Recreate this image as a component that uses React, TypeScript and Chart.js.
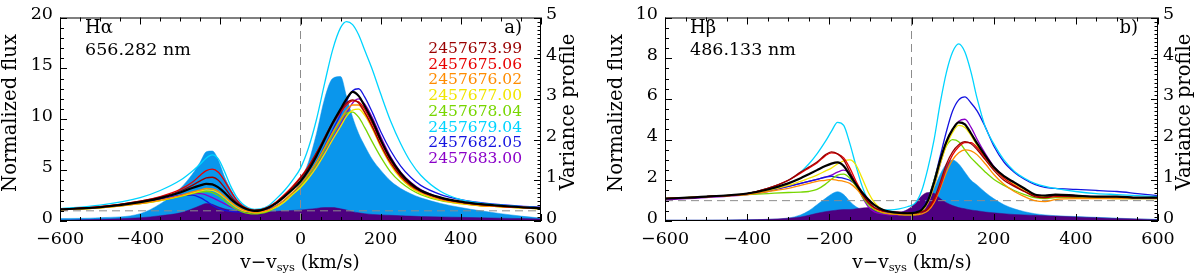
import React, { useEffect, useRef } from "react";
import { Chart, registerables } from "chart.js";

Chart.register(...registerables);

// ---------- data ----------
const DATES = ["2457673.99", "2457675.06", "2457676.02", "2457677.00", "2457678.04", "2457679.04", "2457682.05", "2457683.00"];
const LINE_COLORS = ["#990000", "#e80000", "#ff8c00", "#f2e600", "#77d600", "#00d4ff", "#1414e0", "#8a00c8"];
const FILL_LIGHT = "#0a96ec";
const FILL_DARK = "#4e0080";

const X_TICKS = [-600, -400, -200, 0, 200, 400, 600];
const HA_FLUX_TICKS = [0, 5, 10, 15, 20];
const HB_FLUX_TICKS = [0, 2, 4, 6, 8, 10];
const VAR_TICKS = [0, 1, 2, 3, 4, 5];

// H-alpha
const HA_VEL = [-600, -500, -400, -350, -300, -270, -250, -235, -220, -205, -190, -175, -160, -145, -130, -115, -100, -80, -60, -40, -20, 0, 20, 40, 60, 80, 100, 115, 130, 145, 160, 180, 200, 225, 250, 275, 300, 350, 400, 450, 500, 550, 600];
const HA_MEAN = [1.15, 1.35, 1.85, 2.25, 2.8, 3.25, 3.5, 3.65, 3.6, 3.3, 2.8, 2.2, 1.7, 1.35, 1.1, 1.0, 1.05, 1.3, 1.75, 2.4, 3.1, 3.9, 5.0, 6.4, 8.0, 9.6, 11.0, 12.0, 12.7, 12.3, 11.3, 9.8, 8.0, 6.1, 4.7, 3.7, 3.0, 2.3, 1.9, 1.65, 1.5, 1.35, 1.25];
const HA_DARKRED = [1.15, 1.4, 1.95, 2.35, 2.95, 3.5, 3.95, 4.25, 4.3, 4.0, 3.3, 2.5, 1.85, 1.4, 1.15, 1.05, 1.1, 1.35, 1.85, 2.5, 3.3, 4.2, 5.3, 6.7, 8.2, 9.7, 10.9, 11.6, 11.9, 11.6, 10.7, 9.2, 7.5, 5.7, 4.4, 3.5, 2.9, 2.2, 1.85, 1.6, 1.45, 1.35, 1.25];
const HA_RED = [1.15, 1.4, 1.95, 2.4, 3.1, 3.8, 4.5, 4.95, 5.1, 4.8, 4.0, 3.0, 2.1, 1.5, 1.2, 1.05, 1.1, 1.4, 1.9, 2.6, 3.4, 4.3, 5.4, 6.7, 8.1, 9.5, 10.7, 11.4, 11.8, 11.7, 11.0, 9.5, 7.8, 5.9, 4.5, 3.6, 2.95, 2.25, 1.85, 1.6, 1.45, 1.35, 1.25];
const HA_ORANGE = [1.1, 1.3, 1.7, 2.05, 2.5, 2.85, 3.05, 3.2, 3.15, 2.9, 2.4, 1.9, 1.45, 1.15, 0.95, 0.85, 0.9, 1.1, 1.5, 2.1, 2.8, 3.6, 4.6, 5.8, 7.2, 8.7, 10.0, 10.9, 11.4, 11.4, 10.6, 9.1, 7.4, 5.6, 4.3, 3.4, 2.8, 2.1, 1.75, 1.5, 1.4, 1.3, 1.2];
const HA_YELLOW = [1.1, 1.3, 1.7, 2.0, 2.45, 2.75, 2.95, 3.05, 3.0, 2.75, 2.3, 1.8, 1.35, 1.05, 0.9, 0.8, 0.85, 1.05, 1.4, 1.9, 2.6, 3.3, 4.2, 5.3, 6.6, 8.0, 9.3, 10.3, 10.9, 11.0, 10.4, 9.0, 7.3, 5.5, 4.2, 3.3, 2.7, 2.05, 1.7, 1.5, 1.4, 1.3, 1.2];
const HA_GREEN = [1.1, 1.3, 1.7, 2.0, 2.4, 2.7, 2.85, 2.9, 2.8, 2.5, 2.05, 1.55, 1.15, 0.9, 0.75, 0.7, 0.75, 0.95, 1.35, 1.9, 2.6, 3.4, 4.4, 5.6, 7.0, 8.5, 9.9, 10.6, 10.7, 10.2, 9.2, 7.7, 6.3, 4.8, 3.8, 3.1, 2.6, 2.0, 1.7, 1.5, 1.4, 1.3, 1.2];
const HA_CYAN = [1.2, 1.55, 2.3, 3.0, 4.0, 4.9, 5.6, 6.2, 6.5, 6.1, 4.9, 3.5, 2.4, 1.7, 1.3, 1.15, 1.2, 1.5, 2.2, 3.0, 4.0, 5.2, 7.2, 10.0, 13.5, 16.8, 19.0, 19.6, 19.3, 18.3, 16.8, 14.8, 12.5, 9.8, 7.6, 5.8, 4.5, 2.9, 2.1, 1.75, 1.55, 1.4, 1.3];
const HA_BLUE = [1.1, 1.35, 1.8, 2.15, 2.5, 2.55, 2.3, 1.95, 1.55, 1.25, 1.05, 0.95, 0.9, 0.88, 0.88, 0.9, 0.95, 1.15, 1.5, 2.0, 2.7, 3.5, 4.5, 5.8, 7.3, 8.9, 10.5, 11.8, 12.8, 13.0, 12.2, 10.6, 8.8, 6.9, 5.4, 4.3, 3.5, 2.6, 2.1, 1.8, 1.6, 1.45, 1.35];
const HA_PURPLE = [1.1, 1.35, 1.8, 2.15, 2.55, 2.7, 2.7, 2.55, 2.3, 2.0, 1.7, 1.4, 1.15, 1.0, 0.92, 0.9, 0.95, 1.15, 1.5, 2.0, 2.65, 3.4, 4.3, 5.4, 6.7, 8.1, 9.5, 10.6, 11.6, 12.0, 11.5, 10.1, 8.3, 6.3, 4.8, 3.8, 3.1, 2.3, 1.9, 1.65, 1.5, 1.4, 1.3];
const HA_VAR_LIGHT = [0.06, 0.08, 0.18, 0.42, 0.8, 1.15, 1.45, 1.7, 1.72, 1.5, 1.1, 0.8, 0.55, 0.4, 0.3, 0.26, 0.25, 0.27, 0.32, 0.45, 0.65, 1.0, 1.45, 2.15, 3.0, 3.5, 3.55, 3.05, 2.55, 2.15, 1.85, 1.5, 1.25, 0.98, 0.8, 0.67, 0.57, 0.43, 0.33, 0.25, 0.18, 0.12, 0.07];
const HA_VAR_DARK = [0.02, 0.04, 0.08, 0.13, 0.2, 0.3, 0.38, 0.43, 0.41, 0.35, 0.3, 0.27, 0.25, 0.24, 0.23, 0.23, 0.23, 0.23, 0.24, 0.25, 0.26, 0.27, 0.29, 0.31, 0.33, 0.33, 0.3, 0.27, 0.23, 0.2, 0.18, 0.16, 0.15, 0.14, 0.13, 0.12, 0.11, 0.1, 0.09, 0.08, 0.07, 0.06, 0.05];

// H-beta
const HB_VEL = [-600, -500, -400, -350, -300, -270, -250, -230, -210, -195, -180, -165, -150, -135, -120, -105, -90, -70, -50, -30, -10, 10, 25, 40, 55, 70, 85, 100, 115, 130, 145, 160, 180, 200, 225, 250, 275, 300, 325, 350, 400, 450, 500, 550, 600];
const HB_MEAN = [1.1, 1.2, 1.35, 1.55, 1.85, 2.1, 2.3, 2.5, 2.7, 2.82, 2.88, 2.7, 2.25, 1.8, 1.4, 1.05, 0.78, 0.55, 0.45, 0.4, 0.38, 0.42, 0.55, 1.0, 1.9, 3.0, 3.9, 4.5, 4.85, 4.75, 4.3, 3.8, 3.2, 2.65, 2.2, 1.9, 1.6, 1.3, 1.25, 1.3, 1.25, 1.2, 1.2, 1.15, 1.15];
const HB_DARKRED = [1.1, 1.2, 1.35, 1.6, 2.0, 2.4, 2.65, 2.9, 3.25, 3.4, 3.3, 3.0, 2.4, 1.8, 1.3, 0.9, 0.65, 0.5, 0.45, 0.42, 0.4, 0.4, 0.45, 0.6, 1.1, 1.9, 2.8, 3.4, 3.75, 3.9, 3.8, 3.5, 3.0, 2.5, 2.0, 1.7, 1.45, 1.2, 1.15, 1.25, 1.2, 1.2, 1.2, 1.15, 1.15];
const HB_RED = [1.1, 1.2, 1.35, 1.6, 2.0, 2.35, 2.6, 2.85, 3.2, 3.35, 3.3, 3.1, 2.6, 1.95, 1.4, 0.95, 0.65, 0.5, 0.45, 0.42, 0.4, 0.4, 0.45, 0.6, 1.0, 1.7, 2.6, 3.25, 3.65, 3.85, 3.85, 3.6, 3.1, 2.6, 2.1, 1.75, 1.45, 1.25, 1.15, 1.2, 1.2, 1.2, 1.2, 1.15, 1.15];
const HB_ORANGE = [1.1, 1.2, 1.3, 1.45, 1.6, 1.75, 1.85, 1.95, 2.0, 2.05, 2.0, 1.95, 1.85, 1.6, 1.25, 0.9, 0.6, 0.42, 0.35, 0.32, 0.3, 0.3, 0.35, 0.5, 0.9, 1.6, 2.4, 3.0, 3.35, 3.5, 3.45, 3.25, 2.8, 2.3, 1.8, 1.45, 1.2, 1.0, 0.95, 1.05, 1.1, 1.1, 1.1, 1.1, 1.1];
const HB_YELLOW = [1.1, 1.2, 1.35, 1.5, 1.75, 1.95, 2.1, 2.25, 2.45, 2.6, 2.8, 2.95, 3.0, 2.75, 2.1, 1.4, 0.9, 0.55, 0.45, 0.4, 0.38, 0.4, 0.5, 0.9, 1.7, 2.8, 3.7, 4.35, 4.7, 4.6, 4.2, 3.7, 3.1, 2.6, 2.1, 1.8, 1.5, 1.25, 1.2, 1.25, 1.2, 1.2, 1.15, 1.15, 1.15];
const HB_GREEN = [1.1, 1.2, 1.3, 1.35, 1.4, 1.42, 1.45, 1.55, 1.8, 2.05, 2.25, 2.3, 2.1, 1.7, 1.2, 0.8, 0.55, 0.4, 0.35, 0.32, 0.3, 0.32, 0.45, 1.0, 2.0, 3.0, 3.7, 4.0, 3.9, 3.5, 3.1, 2.8, 2.4, 2.05, 1.75, 1.5, 1.3, 1.15, 1.1, 1.15, 1.15, 1.15, 1.1, 1.1, 1.1];
const HB_CYAN = [1.1, 1.2, 1.35, 1.6, 2.0, 2.4, 2.8, 3.3, 3.9, 4.4, 4.85, 4.7, 3.8, 2.7, 1.7, 1.0, 0.65, 0.55, 0.55, 0.6, 0.7, 0.9, 1.5, 2.6, 4.0, 5.8, 7.3, 8.3, 8.7, 8.3, 7.3, 6.0, 4.6, 3.8, 3.0, 2.45, 2.1, 1.85, 1.7, 1.6, 1.45, 1.35, 1.3, 1.25, 1.2];
const HB_BLUE = [1.1, 1.2, 1.35, 1.5, 1.7, 1.85, 1.95, 2.05, 2.15, 2.2, 2.15, 2.1, 2.0, 1.75, 1.3, 0.85, 0.55, 0.42, 0.4, 0.4, 0.4, 0.45, 0.6, 1.1, 2.0, 3.2, 4.4, 5.4, 5.95, 6.1, 5.8, 5.4, 4.6, 3.7, 2.9, 2.4, 2.05, 1.8, 1.65, 1.6, 1.55, 1.5, 1.45, 1.35, 1.25];
const HB_PURPLE = [1.05, 1.15, 1.3, 1.45, 1.7, 1.85, 1.95, 2.05, 2.15, 2.25, 2.4, 2.5, 2.35, 1.85, 1.2, 0.7, 0.45, 0.35, 0.3, 0.3, 0.3, 0.35, 0.45, 0.85, 1.7, 2.8, 3.8, 4.5, 4.9, 5.0, 4.6, 4.0, 3.3, 2.7, 2.2, 1.85, 1.55, 1.3, 1.25, 1.3, 1.25, 1.2, 1.2, 1.15, 1.15];
const HB_VAR_LIGHT = [0.02, 0.02, 0.03, 0.04, 0.07, 0.15, 0.25, 0.4, 0.55, 0.66, 0.72, 0.65, 0.48, 0.35, 0.28, 0.24, 0.2, 0.16, 0.14, 0.14, 0.18, 0.25, 0.35, 0.5, 0.8, 1.15, 1.4, 1.5, 1.4, 1.2, 1.0, 0.88, 0.7, 0.55, 0.4, 0.3, 0.23, 0.18, 0.15, 0.13, 0.11, 0.09, 0.07, 0.05, 0.04];
const HB_VAR_DARK = [0.02, 0.02, 0.03, 0.04, 0.07, 0.1, 0.14, 0.19, 0.23, 0.25, 0.27, 0.28, 0.28, 0.3, 0.32, 0.33, 0.3, 0.26, 0.22, 0.22, 0.28, 0.45, 0.62, 0.7, 0.68, 0.55, 0.45, 0.38, 0.33, 0.3, 0.27, 0.25, 0.22, 0.2, 0.18, 0.16, 0.15, 0.14, 0.13, 0.12, 0.1, 0.08, 0.06, 0.05, 0.03];

// ---------- drawing ----------
const FONT = '"DejaVu Serif", serif';
const minus = (v: number) => String(v).replace("-", "\u2212");

const framePlugin = {
  id: "frame",
  afterDraw(chart: any) {
    const o = chart.options.plugins.frame;
    const { ctx, chartArea: a } = chart;
    const sx = chart.scales.x, sy = chart.scales.y, s2 = chart.scales.y2;
    ctx.save();
    ctx.strokeStyle = "#000";
    ctx.lineWidth = 1;
    const seg = (x1: number, y1: number, x2: number, y2: number) => {
      ctx.beginPath(); ctx.moveTo(x1, y1); ctx.lineTo(x2, y2); ctx.stroke();
    };
    ctx.strokeRect(a.left + 0.5, a.top + 0.5, a.right - a.left - 1, a.bottom - a.top - 1);
    const loop = (min: number, max: number, step: number, every: number, fn: (v: number, maj: boolean) => void) => {
      const n = Math.round((max - min) / step);
      for (let i = 0; i <= n; i++) fn(min + i * step, i % every === 0);
    };
    loop(-600, 600, 50, 4, (v, maj) => {
      const px = Math.round(sx.getPixelForValue(v)) + 0.5;
      const L = maj ? 7 : 4;
      seg(px, a.bottom, px, a.bottom - L);
      seg(px, a.top, px, a.top + L);
    });
    loop(0, o.yMax, o.yMinor, o.yEvery, (v, maj) => {
      const py = Math.round(sy.getPixelForValue(v)) + 0.5;
      seg(a.left, py, a.left + (maj ? 7 : 4), py);
    });
    loop(0, 5, 0.1, 10, (v, maj) => {
      const py = Math.round(s2.getPixelForValue(v)) + 0.5;
      seg(a.right, py, a.right - (maj ? 7 : 3.5), py);
    });

    ctx.fillStyle = "#000";
    ctx.textBaseline = "middle";
    for (const t of o.texts) {
      ctx.save();
      ctx.font = `${t.size}px ${FONT}`;
      ctx.fillStyle = t.color || "#000";
      ctx.textAlign = t.align || "left";
      ctx.translate(t.x, t.y);
      if (t.rot) ctx.rotate(t.rot);
      ctx.fillText(t.text, 0, 0);
      ctx.restore();
    }
    // legend of dates
    if (o.showLegend) {
      ctx.font = `15.5px ${FONT}`;
      ctx.textAlign = "right";
      DATES.forEach((d, i) => {
        ctx.fillStyle = LINE_COLORS[i];
        ctx.fillText(d, o.legX, o.legY + i * o.legDy);
      });
    }
    // x title with subscript
    ctx.fillStyle = "#000";
    ctx.textAlign = "left";
    const big = `18.5px ${FONT}`, small = `11.5px ${FONT}`;
    const p1 = "v\u2212v", p2 = "sys", p3 = " (km/s)";
    ctx.font = big; const w1 = ctx.measureText(p1).width; const w3 = ctx.measureText(p3).width;
    ctx.font = small; const w2 = ctx.measureText(p2).width;
    let x0 = o.xTitleX - (w1 + w2 + w3) / 2;
    const y0 = o.xTitleY;
    ctx.font = big; ctx.fillText(p1, x0, y0); x0 += w1;
    ctx.font = small; ctx.fillText(p2, x0, y0 + 5); x0 += w2;
    ctx.font = big; ctx.fillText(p3, x0, y0);
    ctx.restore();
  },
};

type PanelProps = {
  vel: number[];
  series: number[][];
  mean: number[];
  varLight: number[];
  varDark: number[];
  yMax: number;
  yTicks: number[];
  yMinor: number;
  yEvery: number;
  leftW: number;
  rightW: number;
  texts: any[];
  legX: number;
  legY: number;
  legDy: number;
  xTitleX: number;
  xTitleY: number;
  showLegend: boolean;
};

function Panel(p: PanelProps) {
  const ref = useRef<HTMLCanvasElement | null>(null);
  useEffect(() => {
    if (!ref.current) return;
    const pts = (arr: number[]) => p.vel.map((v, i) => ({ x: v, y: arr[i] }));
    const datasets: any[] = [];
    datasets.push({
      data: pts(p.mean), borderColor: "#000", borderWidth: 2.2, order: 0, yAxisID: "y",
      pointRadius: 0, cubicInterpolationMode: "monotone", fill: false,
    });
    p.series.forEach((arr, i) => {
      datasets.push({
        data: pts(arr), borderColor: LINE_COLORS[i], borderWidth: 1.3, order: 1 + i, yAxisID: "y",
        pointRadius: 0, cubicInterpolationMode: "monotone", fill: false,
      });
    });
    datasets.push({
      data: [{ x: -600, y: 1 }, { x: 600, y: 1 }], borderColor: "#8c8c8c", borderWidth: 1,
      borderDash: [8, 5], order: 20, yAxisID: "y", pointRadius: 0, fill: false,
    });
    datasets.push({
      data: [{ x: 0, y: 0 }, { x: 0, y: p.yMax }], borderColor: "#8c8c8c", borderWidth: 1,
      borderDash: [8, 5], order: 21, yAxisID: "y", pointRadius: 0, fill: false,
    });
    datasets.push({
      data: pts(p.varDark), borderColor: FILL_DARK, borderWidth: 0.5, backgroundColor: FILL_DARK,
      fill: "origin", order: 30, yAxisID: "y2", pointRadius: 0, cubicInterpolationMode: "monotone",
    });
    datasets.push({
      data: pts(p.varLight), borderColor: FILL_LIGHT, borderWidth: 0.5, backgroundColor: FILL_LIGHT,
      fill: "origin", order: 31, yAxisID: "y2", pointRadius: 0, cubicInterpolationMode: "monotone",
    });

    const tickFont = { family: FONT, size: 17.5 };
    const chart = new Chart(ref.current, {
      type: "line",
      data: { datasets },
      plugins: [framePlugin],
      options: {
        animation: false,
        responsive: false,
        devicePixelRatio: 1,
        layout: { padding: { top: 15, left: 0, right: 0, bottom: 0 } },
        plugins: {
          legend: { display: false },
          tooltip: { enabled: false },
          frame: {
            yMax: p.yMax, yMinor: p.yMinor, yEvery: p.yEvery, texts: p.texts, showLegend: p.showLegend,
            legX: p.legX, legY: p.legY, legDy: p.legDy, xTitleX: p.xTitleX, xTitleY: p.xTitleY,
          },
        } as any,
        scales: {
          x: {
            type: "linear", min: -600, max: 600,
            afterBuildTicks: (s: any) => { s.ticks = X_TICKS.map((v) => ({ value: v })); },
            afterFit: (s: any) => { s.height = 56; },
            grid: { display: false, drawTicks: false },
            border: { display: false },
            ticks: { padding: 8, font: tickFont, color: "#000", autoSkip: false, maxRotation: 0, callback: (v: any) => minus(Number(v)) },
          },
          y: {
            type: "linear", position: "left", min: 0, max: p.yMax,
            afterBuildTicks: (s: any) => { s.ticks = p.yTicks.map((v) => ({ value: v })); },
            afterFit: (s: any) => { s.width = p.leftW; },
            grid: { display: false, drawTicks: false },
            border: { display: false },
            ticks: { padding: 7, labelOffset: -3, font: tickFont, color: "#000", autoSkip: false, callback: (v: any) => minus(Number(v)) },
          },
          y2: {
            type: "linear", position: "right", min: 0, max: 5,
            afterBuildTicks: (s: any) => { s.ticks = VAR_TICKS.map((v) => ({ value: v })); },
            afterFit: (s: any) => { s.width = p.rightW; },
            grid: { display: false, drawTicks: false },
            border: { display: false },
            ticks: { padding: 5, labelOffset: -3, font: tickFont, color: "#000", autoSkip: false, callback: (v: any) => String(v) },
          },
        } as any,
      },
    } as any);
    return () => chart.destroy();
  }, []);
  return <canvas ref={ref} width={600} height={277} style={{ display: "block", width: 600, height: 277 }} />;
}

const ROT = -Math.PI / 2;

export default function App() {
  useEffect(() => {
    document.body.style.margin = "0";
    document.body.style.background = "#fff";
  }, []);
  const haTexts = [
    { text: "Normalized flux", x: 11, y: 113, size: 19.5, align: "center", rot: ROT },
    { text: "Variance profile", x: 569, y: 112, size: 19.5, align: "center", rot: ROT },
    { text: "H\u03b1", x: 85, y: 28, size: 18 },
    { text: "656.282 nm", x: 85, y: 50, size: 17.5 },
    { text: "a)", x: 522, y: 28, size: 18, align: "right" },
  ];
  const hbTexts = [
    { text: "Normalized flux", x: 17, y: 113, size: 19.5, align: "center", rot: ROT },
    { text: "Variance profile", x: 585, y: 112, size: 19.5, align: "center", rot: ROT },
    { text: "H\u03b2", x: 90, y: 28, size: 18 },
    { text: "486.133 nm", x: 90, y: 50, size: 17.5 },
    { text: "b)", x: 538, y: 28, size: 18, align: "right" },
  ];
  return (
    <div style={{ position: "absolute", left: 0, top: 0, width: 1200, height: 277, display: "flex", background: "#fff" }}>
      <Panel
        vel={HA_VEL}
        series={[HA_DARKRED, HA_RED, HA_ORANGE, HA_YELLOW, HA_GREEN, HA_CYAN, HA_BLUE, HA_PURPLE]}
        mean={HA_MEAN}
        varLight={HA_VAR_LIGHT}
        varDark={HA_VAR_DARK}
        yMax={20}
        yTicks={HA_FLUX_TICKS}
        yMinor={1}
        yEvery={5}
        leftW={60}
        rightW={59}
        texts={haTexts}
        legX={522}
        legY={49}
        legDy={15.7}
        xTitleX={300}
        xTitleY={263}
        showLegend={true}
      />
      <Panel
        vel={HB_VEL}
        series={[HB_DARKRED, HB_RED, HB_ORANGE, HB_YELLOW, HB_GREEN, HB_CYAN, HB_BLUE, HB_PURPLE]}
        mean={HB_MEAN}
        varLight={HB_VAR_LIGHT}
        varDark={HB_VAR_DARK}
        yMax={10}
        yTicks={HB_FLUX_TICKS}
        yMinor={0.5}
        yEvery={4}
        leftW={65}
        rightW={42}
        texts={hbTexts}
        legX={0}
        legY={0}
        legDy={0}
        xTitleX={312}
        xTitleY={263}
        showLegend={false}
      />
    </div>
  );
}
